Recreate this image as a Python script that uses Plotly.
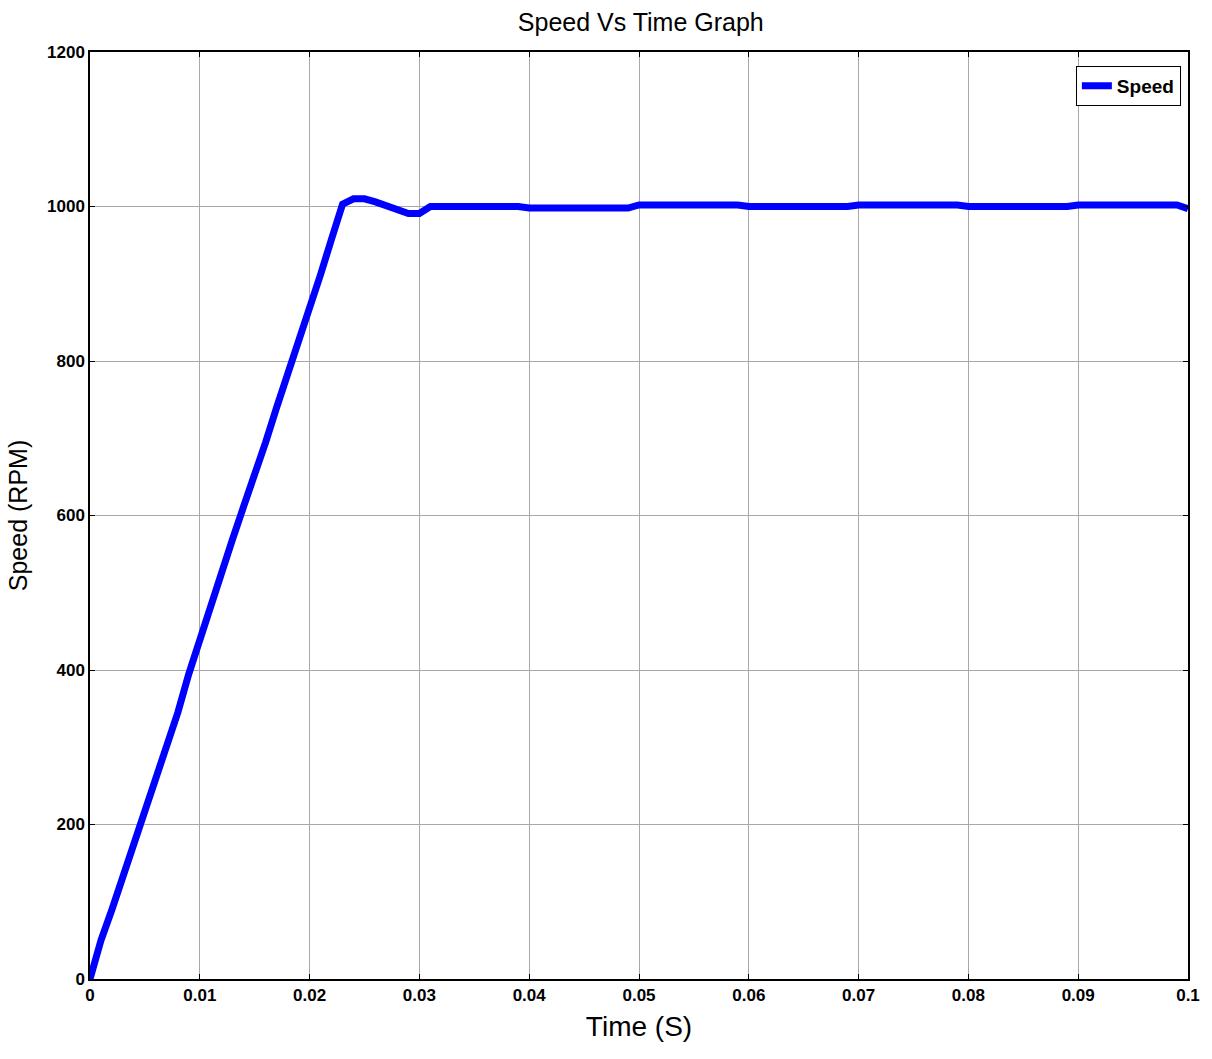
import plotly.graph_objects as go

time_s = [0.000, 0.001, 0.002, 0.003, 0.004, 0.005, 0.006, 0.007, 0.008, 0.009,
          0.010, 0.011, 0.012, 0.013, 0.014, 0.015, 0.016, 0.017, 0.018, 0.019,
          0.020, 0.021, 0.022, 0.023, 0.024, 0.025, 0.026, 0.027, 0.028, 0.029,
          0.030, 0.031, 0.039, 0.040, 0.049, 0.050, 0.059, 0.060, 0.069, 0.070,
          0.079, 0.080, 0.089, 0.090, 0.099, 0.100]
speed_rpm = [0, 50, 90, 132, 173, 222, 260, 305, 345, 395,
             440, 485, 530, 570, 612, 652, 695, 740, 782, 828,
             868, 912, 958, 1003, 1010, 1010, 1006, 1001, 994, 991,
             991, 1000, 1000, 998, 998, 1002, 1002, 1000, 1000, 1002,
             1002, 1000, 1000, 1002, 1002, 997]

x_ticks = [0, 0.01, 0.02, 0.03, 0.04, 0.05, 0.06, 0.07, 0.08, 0.09, 0.1]
x_tick_labels = ["0", "0.01", "0.02", "0.03", "0.04", "0.05", "0.06", "0.07", "0.08", "0.09", "0.1"]
y_ticks = [0, 200, 400, 600, 800, 1000, 1200]
y_tick_labels = ["0", "200", "400", "600", "800", "1000", "1200"]

narrow = "Liberation Sans Narrow, Arial Narrow, Liberation Sans, Arial"

fig = go.Figure()
fig.add_trace(go.Scatter(x=time_s, y=speed_rpm, mode="lines", name="<b>Speed</b>",
                         line=dict(color="#0000FF", width=7)))

axis_common = dict(showline=True, linecolor="black", linewidth=1.5, mirror="allticks",
                   ticks="inside", ticklen=5, tickcolor="black",
                   showgrid=True, gridcolor="#a8a8a8", gridwidth=1, zeroline=False,
                   tickfont=dict(family=narrow, size=17, color="black"))

fig.update_layout(
    width=1212, height=1059,
    margin=dict(l=90, r=17, t=52, b=80),
    paper_bgcolor="white", plot_bgcolor="white",
    title=dict(text="Speed Vs Time Graph", x=0.5287, xanchor="center", y=0.979, yanchor="middle",
               font=dict(family=narrow, size=25, color="black")),
    showlegend=True,
    legend=dict(x=0.9935, xanchor="right", y=0.985, yanchor="top",
                bgcolor="white", bordercolor="black", borderwidth=1,
                font=dict(family=narrow, size=19, color="black")),
    xaxis=dict(range=[0, 0.1], tickvals=x_ticks, ticktext=[f"<b>{t}</b>" for t in x_tick_labels],
               title=dict(text="Time (S)", font=dict(family=narrow, size=28, color="black"), standoff=12),
               **axis_common),
    yaxis=dict(range=[0, 1200], tickvals=y_ticks, ticktext=[f"<b>{t}</b>" for t in y_tick_labels],
               title=dict(text="Speed (RPM)", font=dict(family="Liberation Sans, Arial", size=25, color="black"), standoff=12),
               **axis_common),
)

fig.write_html("out.html")
